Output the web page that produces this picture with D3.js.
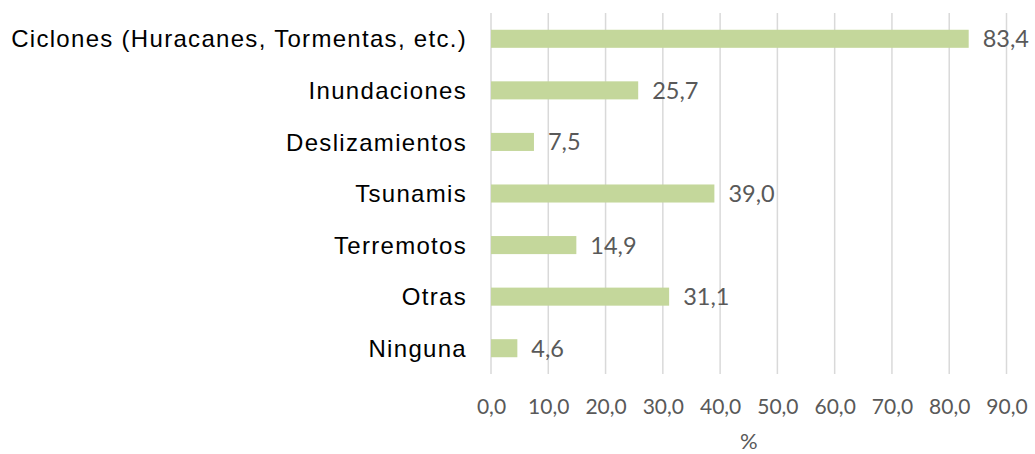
<!DOCTYPE html>
<html>
<head>
<meta charset="utf-8">
<script src="https://cdn.jsdelivr.net/npm/d3@7"></script>
<style>
  body { margin: 0; background: #fff; }
  .cat { font-family: "Liberation Sans", Arial, sans-serif; font-size: 24px; letter-spacing: 1.3px; fill: #000; }
  .val { font-family: Lato, "Open Sans", sans-serif; font-size: 23.5px; fill: #595959; }
  .tick text { font-family: Lato, "Open Sans", sans-serif; font-size: 21px; fill: #595959; }
  .axis-title { font-family: Lato, "Open Sans", sans-serif; font-size: 22px; fill: #595959; }
</style>
</head>
<body>
<div id="viz"></div>
<script>
// categories and values (%)
const categories = ["Ciclones (Huracanes, Tormentas, etc.)", "Inundaciones", "Deslizamientos",
  "Tsunamis", "Terremotos", "Otras", "Ninguna"];
const values = [83.4, 25.7, 7.5, 39.0, 14.9, 31.1, 4.6];
const xTicks = [0, 10, 20, 30, 40, 50, 60, 70, 80, 90];
const axisTitle = "%";

const W = 1035, H = 454;
const margin = {top: 13, right: 28.5, bottom: 80, left: 491};
const width = W - margin.left - margin.right;
const height = H - margin.top - margin.bottom;

const fmt = v => v.toFixed(1).replace(".", ",");

const svg = d3.select("#viz").append("svg")
    .attr("width", W)
    .attr("height", H)
  .append("g")
    .attr("transform", "translate(" + margin.left + "," + margin.top + ")");

const x = d3.scaleLinear().domain([0, 90]).range([0, width]);
const y = d3.scaleBand().domain(categories).range([0, height]).paddingInner(0.65).paddingOuter(0.325);

// vertical gridlines
svg.append("g")
  .selectAll("line")
  .data(xTicks)
  .join("line")
    .attr("x1", d => x(d)).attr("x2", d => x(d))
    .attr("y1", 0).attr("y2", height)
    .attr("stroke", "#d9d9d9")
    .attr("stroke-width", 1.5);

// x axis (labels only)
const xAxis = d3.axisBottom(x)
  .tickValues(xTicks)
  .tickFormat(fmt)
  .tickSize(0)
  .tickPadding(0);
const xAxisG = svg.append("g")
  .attr("transform", "translate(0," + (height + 40) + ")")
  .call(xAxis);
xAxisG.select(".domain").remove();
xAxisG.selectAll("text").attr("dy", 0);

svg.append("text")
  .attr("class", "axis-title")
  .attr("text-anchor", "middle")
  .attr("x", width / 2)
  .attr("y", height + 75)
  .text(axisTitle);

// bars
svg.append("g")
  .selectAll("rect")
  .data(values)
  .join("rect")
    .attr("x", x(0))
    .attr("y", (d, i) => y(categories[i]))
    .attr("width", d => x(d) - x(0))
    .attr("height", y.bandwidth())
    .attr("fill", "#c4d79b");

// value labels
svg.append("g")
  .selectAll("text")
  .data(values)
  .join("text")
    .attr("class", "val")
    .attr("x", d => x(d) + 14)
    .attr("y", (d, i) => y(categories[i]) + y.bandwidth() / 2)
    .attr("dy", "0.36em")
    .text(fmt);

// category labels
svg.append("g")
  .selectAll("text")
  .data(categories)
  .join("text")
    .attr("class", "cat")
    .attr("text-anchor", "end")
    .attr("x", -24)
    .attr("y", d => y(d) + y.bandwidth() / 2)
    .attr("dy", "0.36em")
    .text(d => d);
</script>
</body>
</html>
